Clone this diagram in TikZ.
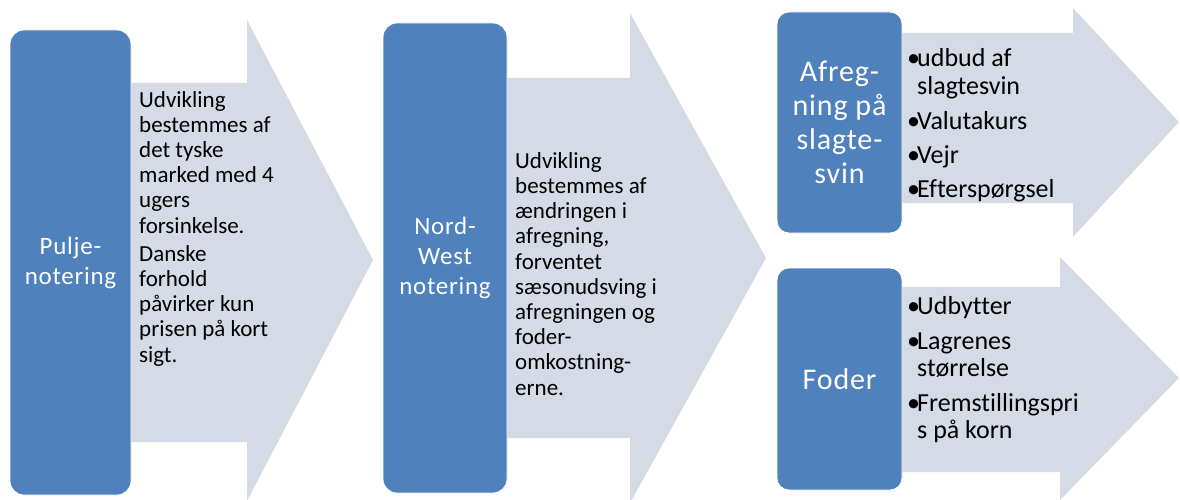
\documentclass[tikz,border=0pt]{standalone}
\usepackage{fontspec}
\setmainfont{Carlito}[Ligatures=NoCommon]
\newfontfamily\boksfont{Carlito}[LetterSpace=3]
\usetikzlibrary{positioning}
\definecolor{boksblaa}{RGB}{79,129,189}
\definecolor{pilgraa}{RGB}{212,218,230}
\tikzset{pil/.style={fill=pilgraa},
  boks/.style={rectangle,rounded corners=14pt,fill=boksblaa,draw=white,line width=0.8pt,
    text=white,align=center,inner sep=0pt},
  tekst/.style={anchor=base west,align=left,inner sep=0pt,text=black,
    font=\fontsize{23}{25.2}\selectfont},
  punkt/.style={anchor=base west,align=left,inner sep=0pt,text=black,
    font=\fontsize{26}{27}\selectfont}}
\newcommand{\itm}{\makebox[10pt][l]{\textbullet}}
\newcommand{\ind}{\hspace*{10pt}}

\begin{document}
\begin{tikzpicture}[x=1pt,y=1pt]
          \useasboundingbox (0,0) rectangle (1180,499);
          \clip (0,0) rectangle (1180,499);

          % pile
          \fill[pil] (131,57) -- (247,57) -- (247,-2) -- (373,239) -- (247,479) -- (247,416) -- (131,416) -- cycle;
          \fill[pil] (507,61) -- (630,61) -- (630,-4) -- (766,241) -- (630,486) -- (630,421) -- (507,421) -- cycle;
          \fill[pil] (902,296) -- (1073,296) -- (1073,262) -- (1179,377) -- (1073,491) -- (1073,466) -- (902,466) -- cycle;
          \fill[pil] (902,27) -- (1060,27) -- (1060,-1) -- (1179,121) -- (1060,242) -- (1060,212) -- (902,212) -- cycle;

          % bokse
          \node (pulje) at (70.5,236.5) [boks,minimum width=121pt,minimum height=465pt,
            font=\boksfont\fontsize{25}{30}\selectfont] {Pulje-\\notering};
          \node (nordwest) at (445,241) [boks,minimum width=124pt,minimum height=470pt,
            font=\boksfont\fontsize{25}{30}\selectfont] {Nord-\\West\\notering};
          \node (afregning) at (839.5,376.5) [boks,rounded corners=12pt,minimum width=125pt,minimum height=221pt,
            font=\boksfont\fontsize{30}{34}\selectfont] {Afreg-\\ning på\\slagte-\\svin};
          \node (foder) at (839.5,120) [boks,rounded corners=12pt,minimum width=125pt,minimum height=222pt,
            font=\boksfont\fontsize{30}{34}\selectfont] {Foder};

          % tekster (ankret i sidste linjes grundlinje)
          \node (puljetxt) at (139,137) [tekst] {Udvikling\\bestemmes af\\det tyske\\marked med 4\\ugers\\forsinkelse.\\[3pt]
            Danske\\forhold\\påvirker kun\\prisen på kort\\sigt.};
          \node (nwtxt) at (515,104) [tekst] {Udvikling\\bestemmes af\\ændringen i\\afregning,\\forventet\\sæsonudsving i\\
            afregningen og\\foder-\\omkostning-\\erne.};
          \node (afrtxt) at (907,302) [punkt] {\itm udbud af\\\ind slagtesvin\\[9pt]\itm Valutakurs\\[6pt]
            \itm Vejr\\[7pt]\itm Efterspørgsel};
          \node (fodtxt) at (907,61) [punkt] {\itm Udbytter\\[8pt]\itm Lagrenes\\\ind størrelse\\[8pt]
            \itm Fremstillingspri\\\ind s på korn};
        \end{tikzpicture}
\end{document}
